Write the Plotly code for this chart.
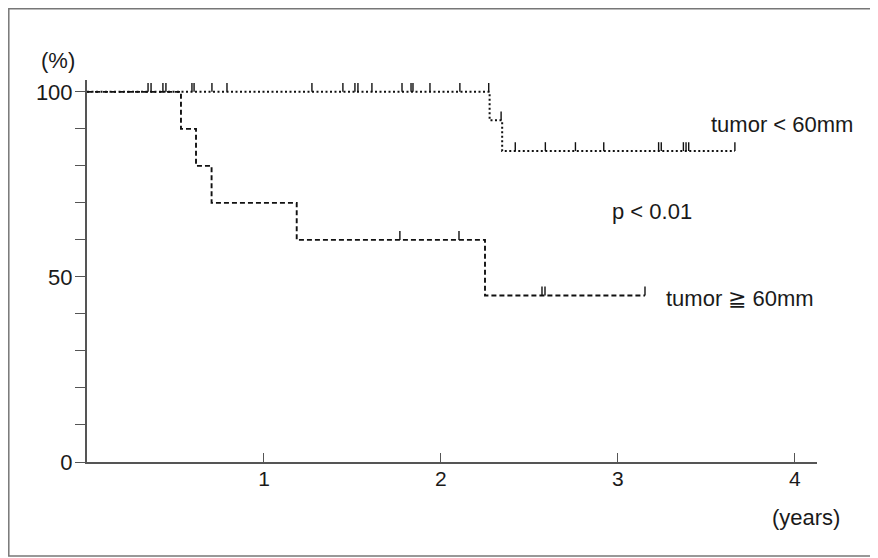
import plotly.graph_objects as go

# ---- data ----
# tumor < 60mm (dotted)
small_t = [0, 2.275, 2.346, 3.661]
small_s = [100, 92.3, 84.0, 84.0]
small_cens_t = [0.345, 0.362, 0.429, 0.446, 0.593, 0.605, 0.706, 0.791, 1.271,
                1.446, 1.514, 1.531, 1.610, 1.780, 1.831, 1.842, 1.938, 2.107,
                2.270, 2.340,
                2.42, 2.59, 2.76, 2.92, 3.23, 3.245, 3.37, 3.385, 3.40, 3.661]
small_cens_s = [100] * 19 + [92.3] + [84.0] * 10

# tumor >= 60mm (dashed)
large_t = [0, 0.531, 0.616, 0.704, 1.185, 2.249, 3.153]
large_s = [100, 90, 80, 70, 60, 45, 45]
large_cens_t = [1.768, 2.102, 2.571, 2.588, 3.153]
large_cens_s = [60, 60, 45, 45, 45]

y_tickvals = [0, 10, 20, 30, 40, 50, 60, 70, 80, 90, 100]
y_ticktext = ["0", "", "", "", "", "50", "", "", "", "", "100"]
x_tickvals = [1, 2, 3, 4]
x_ticktext = ["1", "2", "3", "4"]

FONT = "Liberation Sans, Arial, Helvetica, sans-serif"
INK = "#1a1a1a"
AX = "#555555"

# page body has an 8px margin, so the figure is laid out in its own coordinates
L, R, T, B = 79, 61, 72, 96
W, H = 870, 550
PW, PH = W - L - R, H - T - B          # 730 x 382


def px_x(fx):   # figure pixel -> paper x
    return (fx - L) / PW


def px_y(fy):   # figure pixel -> paper y
    return (T + PH - fy) / PH


fig = go.Figure()

fig.add_trace(go.Scatter(x=small_t, y=small_s, mode="lines", line_shape="hv",
                         line=dict(color="#111111", width=2, dash="2px,2.5px"),
                         hoverinfo="skip", showlegend=False))
fig.add_trace(go.Scatter(x=large_t, y=large_s, mode="lines", line_shape="hv",
                         line=dict(color="#111111", width=1.9, dash="5px,3px"),
                         hoverinfo="skip", showlegend=False))

for ct, cs in ((small_cens_t, small_cens_s), (large_cens_t, large_cens_s)):
    fig.add_trace(go.Scatter(x=ct, y=cs, mode="markers",
                             marker=dict(size=1, color="rgba(0,0,0,0)"),
                             error_y=dict(type="constant", value=2.4, valueminus=0,
                                          symmetric=False, width=0, thickness=1.4,
                                          color="#111111"),
                             hoverinfo="skip", showlegend=False))

ann_font = dict(family=FONT, size=22, color=INK)
fig.add_annotation(x=3.93, y=91.1, text="tumor < 60mm", showarrow=False, font=ann_font)
fig.add_annotation(x=3.19, y=67.6, text="p < 0.01", showarrow=False, font=ann_font)
fig.add_annotation(x=3.69, y=44.3, text="tumor ≧ 60mm", showarrow=False, font=ann_font)
# labels outside the plotting area, placed in paper coordinates
fig.add_annotation(xref="paper", yref="paper", x=px_x(798), y=px_y(509),
                   xanchor="center", yanchor="middle",
                   text="(years)", showarrow=False, font=ann_font)
fig.add_annotation(xref="paper", yref="paper", x=px_x(50), y=px_y(52),
                   xanchor="center", yanchor="middle",
                   text="(%)", showarrow=False, font=ann_font)

# outer frame (extends past the right edge like the scanned original)
fig.add_shape(type="rect", xref="paper", yref="paper",
              x0=px_x(0.8), x1=px_x(W + 10), y0=px_y(H - 2), y1=px_y(0.8),
              line=dict(color="#777777", width=1.5), fillcolor="rgba(0,0,0,0)")

fig.update_layout(
    width=W, height=H,
    margin=dict(l=L, r=R, t=T, b=B, autoexpand=False),
    paper_bgcolor="white", plot_bgcolor="white",
    font=dict(family=FONT, size=20, color=INK),
    xaxis=dict(range=[0, 4.125], tickvals=x_tickvals, ticktext=x_ticktext,
               ticks="inside", ticklen=9, tickwidth=1.2, tickcolor=AX,
               showline=True, linecolor=AX, linewidth=2, showgrid=False,
               zeroline=False, automargin=False, ticklabelstandoff=-3,
               tickfont=dict(family=FONT, size=21, color=INK)),
    yaxis=dict(range=[0, 103.2], tickvals=y_tickvals, ticktext=y_ticktext,
               ticks="outside", ticklen=10, tickwidth=1.2, tickcolor=AX,
               showline=True, linecolor=AX, linewidth=2, showgrid=False,
               zeroline=False, automargin=False, ticklabelstandoff=-2,
               tickfont=dict(family=FONT, size=22, color=INK)),
)

fig.write_html("out.html")
